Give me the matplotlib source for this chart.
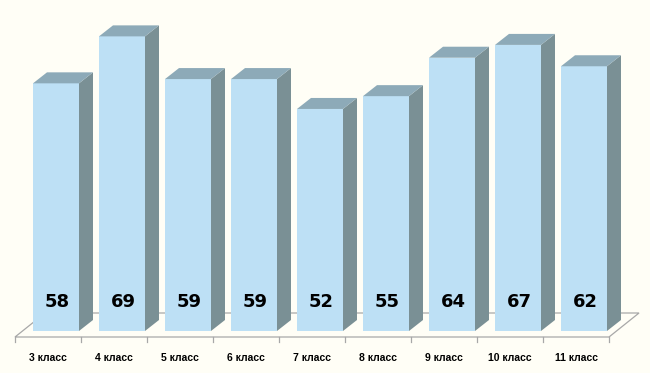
import matplotlib
matplotlib.use("Agg")
import matplotlib.pyplot as plt
from matplotlib.patches import Polygon

categories = ["3 класс", "4 класс", "5 класс", "6 класс", "7 класс",
              "8 класс", "9 класс", "10 класс", "11 класс"]
values = [58, 69, 59, 59, 52, 55, 64, 67, 62]

BG = "#FFFEF6"
FRONT = "#BDE0F5"
SIDE = "#7A9095"
TOP = "#8DAAB8"

fig = plt.figure(figsize=(6.5, 3.73), dpi=100, facecolor=BG)
ax = fig.add_axes([0, 0, 1, 1])
ax.set_facecolor(BG)
px_x = 1 / 66.0      # data units per pixel (x)
px_y = 1 / 4.27      # data units per pixel (y)
ax.set_xlim(-56 * px_x, (650 - 56) * px_x)
ax.set_ylim((331 - 373) * px_y, 331 * px_y)
ax.axis("off")

w = 46 * px_x
dx = 14 * px_x
dy = 11 * px_y
n = len(values)

# floor
fx0 = -0.5 - 0.121
fy0 = -6 * px_y
fdx = 30 * px_x
fdy = 24 * px_y
fx1 = fx0 + n
floor = Polygon([(fx0, fy0), (fx1, fy0), (fx1 + fdx, fy0 + fdy), (fx0 + fdx, fy0 + fdy)],
                closed=True, facecolor=BG, edgecolor="#A8A8A8", lw=0.9, zorder=1)
ax.add_patch(floor)

# ticks
for k in range(n + 1):
    xt = fx0 + k
    ax.plot([xt, xt], [fy0, fy0 - 5 * px_y], color="#A8A8A8", lw=0.9, zorder=1)

for i, (c, v) in enumerate(zip(categories, values)):
    x0 = i - w / 2
    x1 = i + w / 2
    front = Polygon([(x0, 0), (x1, 0), (x1, v), (x0, v)], closed=True,
                    facecolor=FRONT, edgecolor="none", zorder=3)
    side = Polygon([(x1, 0), (x1 + dx, dy), (x1 + dx, v + dy), (x1, v)], closed=True,
                   facecolor=SIDE, edgecolor="none", zorder=3)
    top = Polygon([(x0, v), (x1, v), (x1 + dx, v + dy), (x0 + dx, v + dy)], closed=True,
                  facecolor=TOP, edgecolor="none", zorder=3)
    for p in (front, side, top):
        ax.add_patch(p)
    ax.text(i + 1.5 * px_x, 29 * px_y, str(v), ha="center", va="center",
            fontsize=13, fontweight="heavy", color="black",
            family="DejaVu Sans", zorder=5)
    ax.text(fx0 + 0.5 + i, fy0 - 21 * px_y, c, ha="center", va="center",
            fontsize=7.5, fontweight="bold", color="black",
            family="Liberation Sans", zorder=5)

fig.savefig("out.png", dpi=100, facecolor=BG)
